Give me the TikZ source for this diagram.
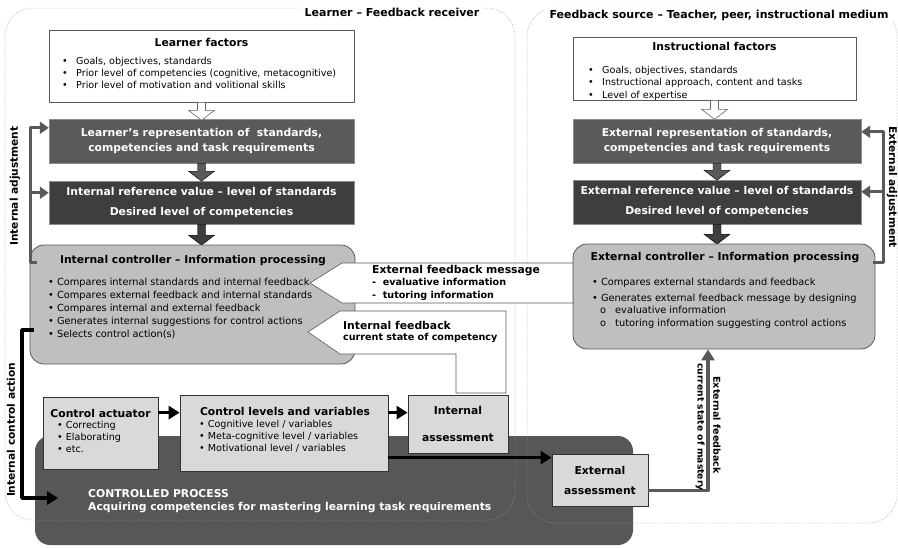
\documentclass[tikz,border=0pt]{standalone}
\usepackage{fontspec}
\setmainfont{DejaVu Sans}
\usetikzlibrary{calc,arrows.meta}
\definecolor{repgray}{HTML}{5A5A5A}
\definecolor{refgray}{HTML}{3E3E3E}
\definecolor{ctrlgray}{HTML}{BFBFBF}
\definecolor{actgray}{HTML}{D9D9D9}
\definecolor{procgray}{HTML}{575757}
\definecolor{edgegray}{HTML}{595959}
\definecolor{zonegray}{HTML}{9A9A9A}
\def\blockdown[#1](#2)(#3){\draw[#1] ($(#2)+(-4,0)$) -- ($(#2)+(4,0)$) -- ($(#2)+(4,#3-10)$) -- ($(#2)+(13,#3-10)$) -- ($(#2)+(0,#3)$) -- ($(#2)+(-13,#3-10)$) -- ($(#2)+(-4,#3-10)$) -- cycle;}
\newcommand{\bul}{\makebox[14pt][l]{\textbullet}}
\newcommand{\subbul}{\hspace*{8pt}\makebox[15pt][l]{o}}
\tikzset{
  zone/.style={draw=zonegray, densely dotted, line width=0.5pt, rounded corners=28pt},
  zonetitle/.style={fill=white, inner xsep=5pt, inner ysep=2pt, font=\bfseries\fontsize{11}{13}\selectfont},
  whitebox/.style={draw=black!65, fill=white, line width=0.6pt, inner sep=0pt},
  repbox/.style={draw=black!45, fill=repgray, text=white, inner sep=0pt, align=center, font=\bfseries\fontsize{10.8}{15}\selectfont},
  refbox/.style={draw=black!45, fill=refgray, text=white, inner sep=0pt, align=center, font=\bfseries\fontsize{10.8}{15}\selectfont},
  ctrlbox/.style={draw=black!65, fill=ctrlgray, line width=0.8pt, rounded corners=14pt},
  actbox/.style={draw=black!80, fill=actgray, line width=0.8pt, inner sep=0pt, align=center, font=\bfseries\fontsize{10.8}{15}\selectfont},
  procbox/.style={fill=procgray, rounded corners=15pt},
  btitle/.style={inner sep=0pt, font=\bfseries\fontsize{10.8}{13}\selectfont},
  blist/.style={anchor=west, inner sep=0pt, align=left, font=\fontsize{9.6}{12}\selectfont},
  fbshape/.style={draw=black!65, fill=white, line width=0.6pt},
  sidelabel/.style={inner sep=0pt, font=\bfseries\fontsize{10.6}{12}\selectfont},
  adjline/.style={draw=edgegray, line width=3pt, line join=round, -{Triangle[width=12pt,length=9pt]}},
  actline/.style={draw=black, line width=3.5pt, line join=round, -{Triangle[width=13pt,length=11pt]}},
  fbline/.style={draw=edgegray, line width=3.5pt, line join=round, -{Triangle[width=13pt,length=11pt]}}
}
\begin{document}
\begin{tikzpicture}[x=1pt, y=-1pt]
  \useasboundingbox (0,0) rectangle (898,547);

  %%%%% CONTROLLED PROCESS AND ZONES %%%%%
  \node[procbox, minimum width=598, minimum height=109] (cproc) at (334,490.5) {};
  \node[anchor=west, inner sep=0pt, align=left, text=white, font=\bfseries\fontsize{10.8}{13}\selectfont] (cproct) at (88,501.5) {CONTROLLED PROCESS\\Acquiring competencies for mastering learning task requirements};

  \draw[zone] (5,8) rectangle (515,520);
  \draw[zone] (527,8) rectangle (897,523);
  \node[zonetitle] (lzone) at (392,12) {Learner -- Feedback receiver};
  \node[zonetitle] (szone) at (719,15) {Feedback source -- Teacher, peer, instructional medium};

  %%%%% LEARNER SIDE %%%%%
  \node[whitebox, minimum width=305, minimum height=72] (lfac) at (201.5,66) {};
  \node[btitle] (lfact) at (201.5,42) {Learner factors};
  \node[blist] (lfacl) at (62,73) {\bul Goals, objectives, standards\\\bul Prior level of competencies (cognitive, metacognitive)\\\bul Prior level of motivation and volitional skills};

  \node[repbox, minimum width=305, minimum height=44] (ilrep) at (201.5,141) {Learner's representation of\ \ standards,\\competencies and task requirements};
  \node[refbox, minimum width=305, minimum height=43] (iref) at (201.5,202.5) {Internal reference value -- level of standards\\[5pt]Desired level of competencies};

  \blockdown[draw=black!60, fill=white, line width=0.6pt](lfac.south)(18)
  \blockdown[fill=repgray](ilrep.south)(18)
  \blockdown[fill=refgray](iref.south)(21)

  \node[ctrlbox, minimum width=325, minimum height=119] (ictrl) at (192.5,304.5) {};
  \node[btitle] (ictrlt) at (193,261) {Internal controller -- Information processing};
  \node[blist, font=\fontsize{9.8}{13}\selectfont] (ictrll) at (48,308) {\textbullet\ Compares internal standards and internal feedback\\\textbullet\ Compares external feedback and internal standards\\\textbullet\ Compares internal and external feedback\\\textbullet\ Generates internal suggestions for control actions\\\textbullet\ Selects control action(s)};

  %%%%% FEEDBACK SOURCE SIDE %%%%%
  \node[whitebox, minimum width=283, minimum height=63] (ifac) at (714.5,68.5) {};
  \node[btitle] (ifact) at (714.5,46) {Instructional factors};
  \node[blist] (ifacl) at (588,83.5) {\bul Goals, objectives, standards\\\bul Instructional approach, content and tasks\\[1pt]\bul Level of expertise};

  \node[repbox, minimum width=288, minimum height=44] (elrep) at (717,141) {External representation of standards,\\competencies and task requirements};
  \node[refbox, minimum width=288, minimum height=44] (eref) at (717,202) {External reference value -- level of standards\\[5pt]Desired level of competencies};

  \blockdown[draw=black!60, fill=white, line width=0.6pt](ifac.south)(19)
  \blockdown[fill=repgray](elrep.south)(17)
  \blockdown[fill=refgray](eref.south)(20)

  \node[ctrlbox, minimum width=302, minimum height=105] (ectrl) at (724,296.5) {};
  \node[btitle] (ectrlt) at (725,258) {External controller -- Information processing};
  \node[blist, font=\fontsize{9.8}{13}\selectfont] (ectrll) at (592,303.5) {\textbullet\ Compares external standards and feedback\\[3pt]\textbullet\ Generates external feedback message by designing\\[-1pt]\subbul evaluative information\\\subbul tutoring information suggesting control actions};

  %%%%% FEEDBACK MESSAGES %%%%%
  \draw[fbshape] (342,263) -- (573,263) -- (573,303) -- (342,303) -- (310,283) -- cycle;
  \node[btitle, anchor=west] (efbm) at (372,271) {External feedback message};
  \node[blist, font=\bfseries\fontsize{9.6}{13}\selectfont] (efbml) at (372,289.5) {-\ \ evaluative information\\-\ \ tutoring information};

  \draw[fbshape] (308,332) -- (340,311) -- (506,311) -- (506,393) -- (456,393) -- (456,354) -- (340,354) -- cycle;
  \node[btitle, anchor=west] (ifb) at (343,325) {Internal feedback};
  \node[blist, font=\bfseries\fontsize{9.6}{12}\selectfont] (ifbl) at (343,338) {current state of competency};

  %%%%% CONTROL LOOP %%%%%
  \node[actbox, minimum width=115, minimum height=72] (cact) at (100.5,433) {};
  \node[btitle] (cactt) at (100.5,413) {Control actuator};
  \node[blist] (cactl) at (57,437) {\textbullet\ Correcting\\\textbullet\ Elaborating\\\textbullet\ etc.};

  \node[actbox, minimum width=208, minimum height=76] (clev) at (284,433) {};
  \node[btitle] (clevt) at (285,411) {Control levels and variables};
  \node[blist] (clevl) at (199,436) {\textbullet\ Cognitive level / variables\\\textbullet\ Meta-cognitive level / variables\\\textbullet\ Motivational level / variables};

  \node[actbox, minimum width=100, minimum height=58] (iass) at (458,424) {Internal\\[12pt]assessment};
  \node[actbox, minimum width=96, minimum height=52] (eass) at (600,480) {External\\[5pt]assessment};

  \coordinate (caout) at ([yshift=-16pt]cact.north east);
  \coordinate (clout) at ([yshift=-18pt]clev.north east);
  \coordinate (eain) at ([yshift=-4pt]eass.north west);
  \draw[actline] (caout) -- (clev.west |- caout);
  \draw[actline] (clout) -- (iass.west |- clout);
  \draw[actline] (clev.east |- eain) -- (eain);

  \coordinate (efout) at ([yshift=16pt]eass.south east);
  \draw[fbline] (efout) -| ([xshift=-16pt]ectrl.south);
  \node[sidelabel, rotate=-90, font=\bfseries\fontsize{9.5}{11}\selectfont] (efbt) at (717,425) {External feedback};
  \node[sidelabel, rotate=-90, font=\bfseries\fontsize{9.2}{11}\selectfont] (efbs) at (700,427) {current state of mastery};

  %%%%% ADJUSTMENTS %%%%%
  \coordinate (iadj) at (30,262);
  \coordinate (irefin) at ([yshift=-12pt]iref.north west);
  \draw[adjline] ($(ictrl.west |- iadj)+(7,0)$) -- (iadj) |- ([yshift=-9pt]ilrep.north west);
  \draw[adjline] (iadj |- irefin) -- (irefin);
  \node[sidelabel, rotate=90] (iadjt) at (15,186) {Internal adjustment};

  \coordinate (eadj) at (883,262);
  \coordinate (erefin) at ([yshift=-12pt]eref.north east);
  \draw[adjline] ($(ectrl.east |- eadj)+(-2,0)$) -- (eadj) |- ([yshift=-13pt]elrep.north east);
  \draw[adjline] (eadj |- erefin) -- (erefin);
  \node[sidelabel, rotate=-90] (eadjt) at (892,187) {External adjustment};

  \coordinate (ica) at (22,330);
  \coordinate (cpin) at (58,498);
  \draw[actline] ($(ictrl.west |- ica)+(4,0)$) -- (ica) |- (cpin);
  \node[sidelabel, rotate=90] (icat) at (11,430) {Internal control action};
\end{tikzpicture}
\end{document}
